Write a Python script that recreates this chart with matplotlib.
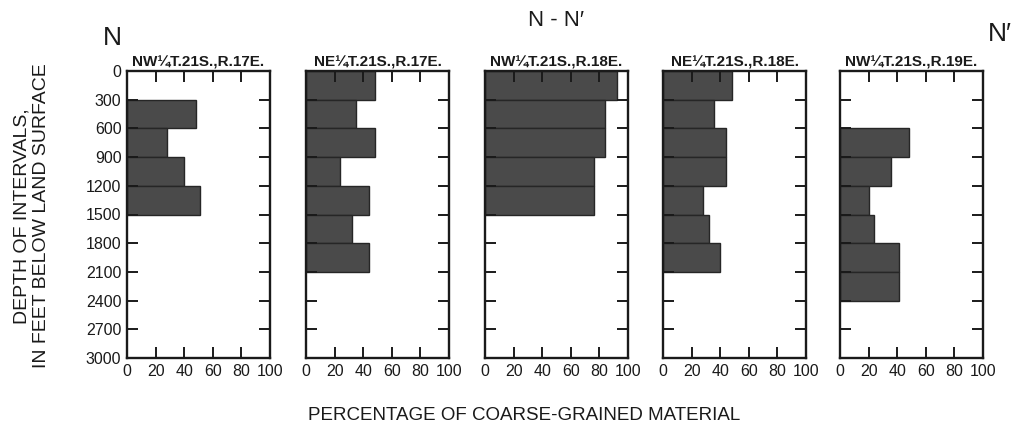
import numpy as np
import matplotlib
matplotlib.use('Agg')
import matplotlib.pyplot as plt

plt.rcParams['font.family'] = ['Liberation Sans', 'DejaVu Sans']

# tops of the 300-ft depth intervals
depth_top = [0, 300, 600, 900, 1200, 1500, 1800, 2100, 2400, 2700]
nan = np.nan
titles = ['NW¼T.21S.,R.17E.', 'NE¼T.21S.,R.17E.', 'NW¼T.21S.,R.18E.',
          'NE¼T.21S.,R.18E.', 'NW¼T.21S.,R.19E.']
pct_nw_17 = [nan, 48, 28, 40, 51, nan, nan, nan, nan, nan]
pct_ne_17 = [48, 35, 48, 24, 44, 32, 44, nan, nan, nan]
pct_nw_18 = [92, 84, 84, 76, 76, nan, nan, nan, nan, nan]
pct_ne_18 = [48, 36, 44, 44, 28, 32, 40, nan, nan, nan]
pct_nw_19 = [nan, nan, 48, 36, 20, 24, 41, 41, nan, nan]
series = [pct_nw_17, pct_ne_17, pct_nw_18, pct_ne_18, pct_nw_19]

yticks = list(range(0, 3001, 300))
xticks = [0, 20, 40, 60, 80, 100]

W, H = 1018, 425
fig = plt.figure(figsize=(W / 100, H / 100), dpi=100)
lefts = [127, 306, 485, 663, 840]
pw = 143
top, bot = 71, 358
ink = '#1a1a1a'

for i, (x0, vals) in enumerate(zip(lefts, series)):
    ax = fig.add_axes([x0 / W, 1 - bot / H, pw / W, (bot - top) / H])
    v = np.array(vals, dtype=float)
    ok = np.isfinite(v)
    ax.barh(np.array(depth_top)[ok], v[ok], height=300, align='edge',
            color='#4a4a4a', edgecolor='#262626', lw=1.0)
    ax.set_xlim(0, 100)
    ax.set_ylim(3000, 0)
    ax.set_xticks(xticks)
    ax.set_yticks(yticks)
    ax.tick_params(direction='in', length=8, width=1.4, top=True,
                   right=True, labelsize=11.5, pad=4, colors=ink)
    if i > 0:
        ax.set_yticklabels([])
    for s in ax.spines.values():
        s.set_linewidth(1.7)
        s.set_color(ink)
    ax.set_title(titles[i], fontsize=11, fontweight='bold', pad=3, color=ink)

fig.text(32 / W, 1 - 216 / H, 'DEPTH OF INTERVALS,\nIN FEET BELOW LAND SURFACE',
         rotation=90, ha='center', va='center', fontsize=14,
         linespacing=1.2, color=ink)
fig.text(524 / W, 1 - 415 / H, 'PERCENTAGE OF COARSE-GRAINED MATERIAL',
         ha='center', va='center', fontsize=13.5, color=ink)
fig.text(556 / W, 1 - 20 / H, 'N - N\u2032', ha='center', va='center',
         fontsize=16, color=ink)
fig.text(112 / W, 1 - 38 / H, 'N', ha='center', va='center',
         fontsize=19, color=ink)
fig.text(1000 / W, 1 - 34 / H, 'N\u2032', ha='center', va='center',
         fontsize=19, color=ink)

fig.savefig('out.png', dpi=100)
